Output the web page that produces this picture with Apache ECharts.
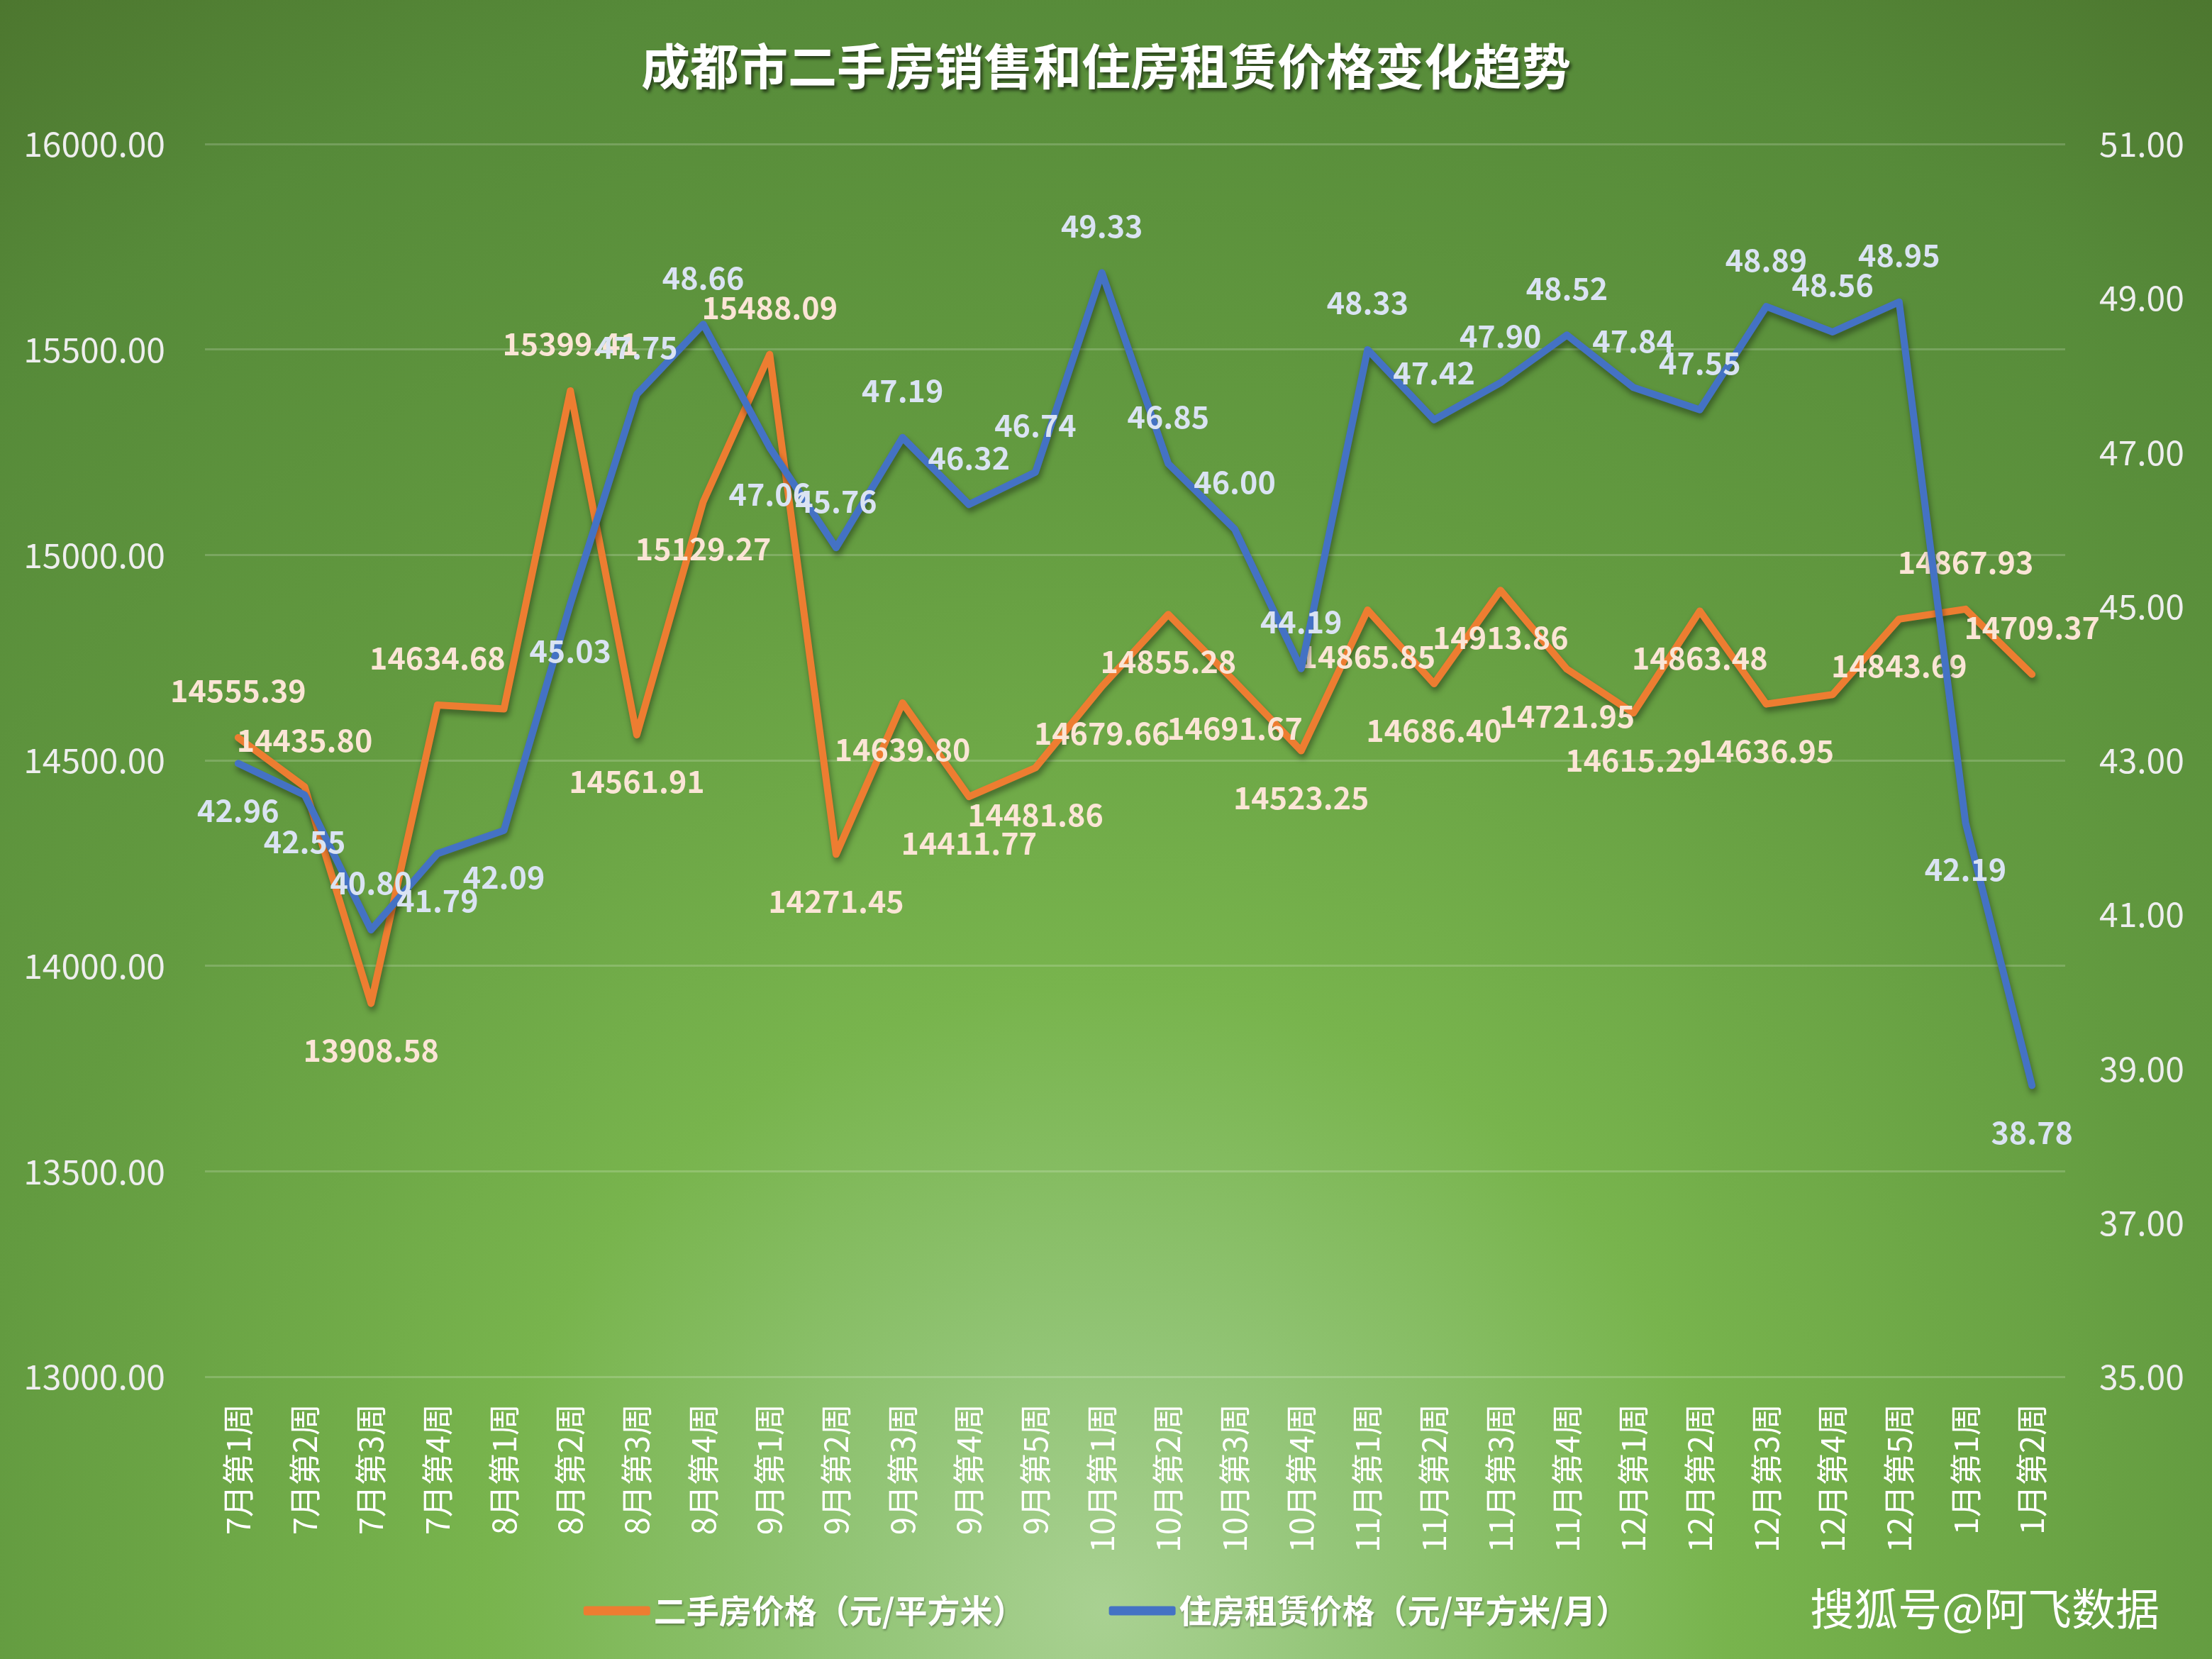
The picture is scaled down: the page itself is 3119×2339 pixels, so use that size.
<!DOCTYPE html>
<html>
<head>
<meta charset="utf-8">
<script src="https://cdn.jsdelivr.net/npm/echarts@6/dist/echarts.min.js"></script>
<style>
html,body{margin:0;padding:0;}
#c{width:3119px;height:2339px;}
</style>
</head>
<body>
<div id="c"></div>
<script>
const categories = ['7月第1周','7月第2周','7月第3周','7月第4周','8月第1周','8月第2周','8月第3周','8月第4周',
  '9月第1周','9月第2周','9月第3周','9月第4周','9月第5周','10月第1周','10月第2周','10月第3周','10月第4周',
  '11月第1周','11月第2周','11月第3周','11月第4周','12月第1周','12月第2周','12月第3周','12月第4周','12月第5周',
  '1月第1周','1月第2周'];
const resalePrice = [14555.39,14435.80,13908.58,14634.68,14625.00,15399.41,14561.91,15129.27,
  15488.09,14271.45,14639.80,14411.77,14481.86,14679.66,14855.28,14691.67,14523.25,
  14865.85,14686.40,14913.86,14721.95,14615.29,14863.48,14636.95,14660.00,14843.69,
  14867.93,14709.37];
const rentPrice = [42.96,42.55,40.80,41.79,42.09,45.03,47.75,48.66,
  47.06,45.76,47.19,46.32,46.74,49.33,46.85,46.00,44.19,
  48.33,47.42,47.90,48.52,47.84,47.55,48.89,48.56,48.95,
  42.19,38.78];
const seriesNames = ['二手房价格（元/平方米）','住房租赁价格（元/平方米/月）'];

// label placement (style only)
const resaleLabelSide = ['top','top','bottom','top','none','top','bottom','bottom','top','bottom','bottom','bottom','bottom','bottom','bottom','bottom','bottom','bottom','bottom','bottom','bottom','bottom','bottom','bottom','none','bottom','top','top'];
const rentLabelSide = ['bottom','bottom','top','bottom','bottom','bottom','top','top','bottom','top','top','top','top','top','top','top','top','top','top','top','top','top','top','top','top','top','bottom','bottom'];

function build(values, sides){
  return values.map((v,i)=>{
    const s = sides[i];
    if (s === 'none') return {value:v, label:{show:false}};
    return {value:v, label:{show:true, position:s}};
  });
}

const chart = echarts.init(document.getElementById('c'));
const FONT = '"Noto Sans CJK SC","Noto Sans",sans-serif';
const labelCommon = {show:true, distance:44, fontSize:43, fontWeight:'bold', fontFamily:FONT,
  formatter:p=>Number(p.value).toFixed(2)};
chart.setOption({
  backgroundColor: {
    type:'radial', x:0.5, y:0.97, r:1.25,
    colorStops:[
      {offset:0, color:'#a9d192'},
      {offset:0.12, color:'#93c577'},
      {offset:0.3, color:'#78b44d'},
      {offset:0.55, color:'#639b40'},
      {offset:0.8, color:'#568a39'},
      {offset:1, color:'#496f2b'}
    ]
  },
  textStyle:{fontFamily:FONT},
  title:[{
    text:'成都市二手房销售和住房租赁价格变化趋势',
    left:'center', top:54,
    textStyle:{color:'#ffffff', fontSize:69, fontWeight:'bold', fontFamily:FONT,
      textShadowColor:'rgba(0,0,0,0.55)', textShadowBlur:4, textShadowOffsetX:3, textShadowOffsetY:4}
  },{
    text:'搜狐号@阿飞数据',
    right:69, top:2232,
    textStyle:{color:'#ffffff', fontSize:62, fontWeight:'normal', fontFamily:FONT,
      textShadowColor:'rgba(0,0,0,0.85)', textShadowBlur:0, textShadowOffsetX:3, textShadowOffsetY:3}
  }],
  legend:{
    data:seriesNames,
    left:'center', top:2243,
    icon:'roundRect', itemWidth:94, itemHeight:13, itemGap:118, itemStyle:{borderWidth:0},
    textStyle:{color:'#ffffff', fontSize:46, fontWeight:'bold', fontFamily:FONT,
      textShadowColor:'rgba(0,0,0,0.35)', textShadowBlur:3, textShadowOffsetX:1, textShadowOffsetY:2}
  },
  grid:{left:289, right:207, top:203, bottom:398, containLabel:false},
  xAxis:{
    type:'category', data:categories, boundaryGap:true,
    axisLine:{show:false}, axisTick:{show:false},
    axisLabel:{rotate:90, color:'#ffffff', fontSize:45, margin:38, interval:0, fontFamily:FONT}
  },
  yAxis:[{
    type:'value', min:13000, max:16000, interval:500, position:'left',
    axisLabel:{color:'#eeeeee', fontSize:48, margin:56, formatter:v=>v.toFixed(2), fontFamily:FONT},
    axisLine:{show:false}, axisTick:{show:false},
    splitLine:{lineStyle:{color:'rgba(255,255,255,0.18)', width:3}}
  },{
    type:'value', min:35, max:51, interval:2, position:'right',
    axisLabel:{color:'#eeeeee', fontSize:48, margin:48, formatter:v=>v.toFixed(2), fontFamily:FONT},
    axisLine:{show:false}, axisTick:{show:false}, splitLine:{show:false}
  }],
  series:[{
    name:seriesNames[0], type:'line', yAxisIndex:0,
    data:build(resalePrice, resaleLabelSide),
    showSymbol:true, symbol:'circle', symbolSize:1, z:2,
    lineStyle:{color:'#ED7D31', width:10, cap:'round', join:'round',
      shadowColor:'rgba(0,0,0,0.4)', shadowBlur:8, shadowOffsetY:6, shadowOffsetX:2},
    itemStyle:{color:'#ED7D31'},
    label:Object.assign({color:'#fbe5d6'}, labelCommon),
    emphasis:{disabled:true}
  },{
    name:seriesNames[1], type:'line', yAxisIndex:1,
    data:build(rentPrice, rentLabelSide),
    showSymbol:true, symbol:'circle', symbolSize:1, z:3,
    lineStyle:{color:'#4472C4', width:10, cap:'round', join:'round',
      shadowColor:'rgba(0,0,0,0.4)', shadowBlur:8, shadowOffsetY:6, shadowOffsetX:2},
    itemStyle:{color:'#4472C4'},
    label:Object.assign({color:'#dae3f3'}, labelCommon),
    emphasis:{disabled:true}
  }]
});
</script>
</body>
</html>
